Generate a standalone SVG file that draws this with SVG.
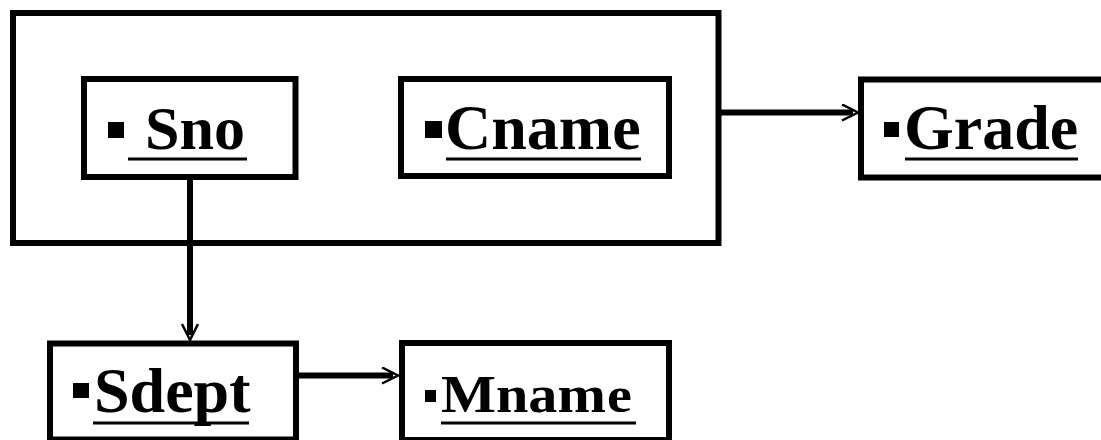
<svg xmlns="http://www.w3.org/2000/svg" width="1101" height="440" viewBox="0 0 1101 440">
  <style>
    .box { fill: none; stroke: #000; stroke-width: 6; }
    .lbl { font-family: "Liberation Serif", "Times New Roman", serif; font-weight: bold; fill: #000; }
    .ul { stroke: #000; stroke-width: 3; }
    .bul { fill: #000; }
    .conn { stroke: #000; stroke-width: 6; fill: none; }
  </style>
  <defs>
    <marker id="arr" markerUnits="userSpaceOnUse" markerWidth="24" markerHeight="24" viewBox="0 0 24 24" refX="12" refY="9" orient="auto">
      <path d="M1,1 L17,9 L1,17" fill="none" stroke="#000" stroke-width="2.5"/>
    </marker>
  </defs>
  <rect width="1101" height="440" fill="#fff"/>

  <g id="outer">
    <rect class="box" x="13" y="13" width="705.5" height="230"/>
  </g>

  <g id="sno">
    <rect class="box" x="84" y="79" width="211.5" height="98"/>
    <rect class="bul" x="108" y="122" width="16" height="16"/>
    <text class="lbl" x="145" y="149" font-size="62">Sno</text>
    <line class="ul" x1="128" y1="159" x2="247" y2="159"/>
  </g>

  <g id="cname">
    <rect class="box" x="401" y="79" width="268" height="97"/>
    <rect class="bul" x="425" y="121" width="17" height="17"/>
    <text class="lbl" x="445" y="149" font-size="64">Cname</text>
    <line class="ul" x1="446" y1="159" x2="641" y2="159"/>
  </g>

  <g id="grade">
    <rect class="box" x="861" y="79.5" width="260" height="98"/>
    <rect class="bul" x="884" y="122" width="15" height="15"/>
    <text class="lbl" x="904" y="149" font-size="64">Grade</text>
    <line class="ul" x1="905" y1="159" x2="1078" y2="159"/>
  </g>

  <g id="sdept">
    <rect class="box" x="50" y="343.5" width="246" height="96"/>
    <rect class="bul" x="73" y="383" width="16" height="15"/>
    <text class="lbl" x="94" y="412" font-size="64">Sdept</text>
    <line class="ul" x1="93" y1="423" x2="249" y2="423"/>
  </g>

  <g id="mname">
    <rect class="box" x="402" y="343" width="267" height="97"/>
    <rect class="bul" x="425" y="390" width="11" height="12"/>
    <text class="lbl" font-size="52" transform="translate(441,412) scale(1.12,1)">Mnam<tspan font-size="50" dx="1">e</tspan></text>
    <line class="ul" x1="441" y1="423" x2="636" y2="423"/>
  </g>

  <g id="connectors">
    <line class="conn" x1="190" y1="180" x2="190" y2="335" marker-end="url(#arr)"/>
    <line class="conn" x1="721" y1="112.5" x2="853" y2="112.5" marker-end="url(#arr)"/>
    <line class="conn" x1="299" y1="375.5" x2="393" y2="375.5" marker-end="url(#arr)"/>
  </g>
</svg>
